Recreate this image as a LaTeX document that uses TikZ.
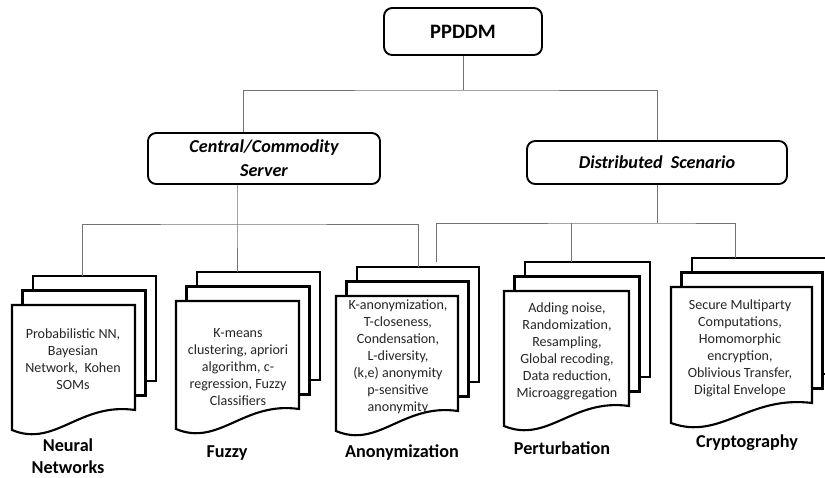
\documentclass[tikz,border=0pt]{standalone}
\usepackage{fontspec}
\setmainfont{Carlito}
\usepackage{tikz}

\tikzset{
  caja/.style={draw, line width=1.6pt, rounded corners=7pt, fill=white, align=center, inner sep=0pt},
  linea/.style={draw=black!55, line width=0.8pt},
  hoja/.style={draw, line width=1.8pt, fill=white},
  texto/.style={align=center, text=black!85, font=\fontsize{12}{14.5}\selectfont},
  etiqueta/.style={align=center, font=\bfseries\fontsize{15.5}{18.7}\selectfont}
}

\begin{document}
\begin{tikzpicture}[x=0.03cm, y=-0.03cm]
        \useasboundingbox (0,0) rectangle (825,477);
        \clip (0,0) rectangle (825,477);

        % Cajas superiores
        \node[caja, minimum width=4.74cm, minimum height=1.41cm, font=\bfseries\fontsize{17.5}{21}\selectfont] (raiz) at (463,31.5) {PPDDM};
        \node[caja, minimum width=6.96cm, minimum height=1.53cm, font=\bfseries\itshape\fontsize{15.5}{20.4}\selectfont] (central) at (264,158.5) {Central/Commodity\\Server};
        \node[caja, minimum width=7.8cm, minimum height=1.29cm, font=\bfseries\itshape\fontsize{15.5}{20.4}\selectfont] (distribuido) at (657,162.5) {Distributed\ \ Scenario};

        % Pilas de documentos
        \foreach \n/\fx/\fy/\w/\h/\cx in {nn/12/305/123/105/82, fz/176/301/123/108/237, an/336/296/122/115/418, pe/504/291/125/115/571, cr/671/287/141/116/735} {
            \draw[hoja] (\fx+21,\fy-29) rectangle ++(\w,\h);
            \draw[hoja] (\fx+10.5,\fy-14.5) rectangle ++(\w,\h);
            \draw[hoja] (\fx,\fy) -- (\fx+\w,\fy) -- (\fx+\w,\fy+\h)
                .. controls (\fx+0.55*\w,\fy+\h-8) and (\fx+0.35*\w,\fy+\h+38) .. (\fx,\fy+\h+20) -- cycle;
            \coordinate (\n) at (\cx,\fy-29);
        }

        % Textos
        \node[texto] (t-nn) at (73,359) {Probabilistic NN,\\Bayesian\\Network,\ \ Kohen\\SOMs};
        \node[texto] (t-fz) at (238,367) {K-means\\clustering, apriori\\algorithm, c-\\regression, Fuzzy\\Classifiers};
        \node[texto] (t-an) at (398,357) {K-anonymization,\\T-closeness,\\Condensation,\\L-diversity,\\(k,e) anonymity\\p-sensitive\\anonymity};
        \node[texto] (t-pe) at (567,351.5) {Adding noise,\\Randomization,\\Resampling,\\Global recoding,\\Data reduction,\\Microaggregation};
        \node[texto] (t-cr) at (740,348.5) {Secure Multiparty\\Computations,\\Homomorphic\\encryption,\\Oblivious Transfer,\\Digital Envelope};

        % Etiquetas
        \node[etiqueta] (l-nn) at (68,456.5) {Neural\\Networks};
        \node[etiqueta] (l-fz) at (227,453) {Fuzzy};
        \node[etiqueta] (l-an) at (402,453) {Anonymization};
        \node[etiqueta] (l-pe) at (562,448) {Perturbation};
        \node[etiqueta] (l-cr) at (747,443) {Cryptography};

        % Conectores
        \coordinate (b0) at (463,90);
        \coordinate (b1) at (237,224);
        \coordinate (b2) at (657,223);
        \coordinate (suelto) at (436,262);
        \draw[linea] (raiz) -- (b0);
        \draw[linea] ([xshift=-0.63cm]central.north) |- (b0) -| (distribuido);
        \draw[linea] (central.south -| b1) -- (b1) -- (fz);
        \draw[linea] (nn) |- (b1) -| (an);
        \draw[linea] (distribuido) -- (b2);
        \draw[linea] (suelto) |- (b2) -| (cr);
        \draw[linea] (b2 -| pe) -- (pe);
    \end{tikzpicture}
\end{document}
